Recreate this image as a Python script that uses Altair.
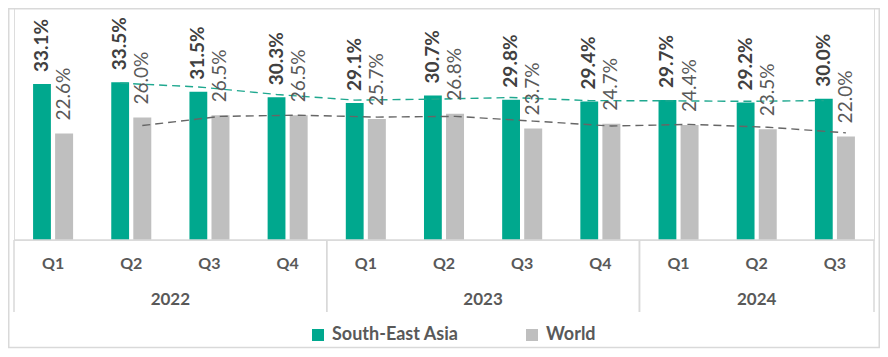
import altair as alt
import pandas as pd

# ---- data ----
quarters = ["Q1", "Q2", "Q3", "Q4", "Q1", "Q2", "Q3", "Q4", "Q1", "Q2", "Q3"]
years = ["2022"] * 4 + ["2023"] * 4 + ["2024"] * 3
sea = [33.1, 33.5, 31.5, 30.3, 29.1, 30.7, 29.8, 29.4, 29.7, 29.2, 30.0]
world = [22.6, 26.0, 26.5, 26.5, 25.7, 26.8, 23.7, 24.7, 24.4, 23.5, 22.0]
series_names = ["South-East Asia", "World"]
series_colors = ["#00A88E", "#BFBFBF"]

year_labels = ["2022", "2023", "2024"]
year_first = [0, 4, 8]
year_last = [3, 7, 10]

rows = []
for i, q in enumerate(quarters):
    rows.append({"idx": i, "quarter": q, "year": years[i], "series": series_names[0], "value": sea[i]})
    rows.append({"idx": i, "quarter": q, "year": years[i], "series": series_names[1], "value": world[i]})
df = pd.DataFrame(rows)
qdf = pd.DataFrame({"idx": list(range(len(quarters))), "quarter": quarters})
ydf = pd.DataFrame({"year": year_labels, "first": year_first, "last": year_last})

FONT = "Lato"
W, H = 860, 232
xscale = alt.Scale(domain=[-0.5, 10.5], nice=False, zero=False)
yscale = alt.Scale(domain=[0, 49.26], nice=False, zero=True)

base = alt.Chart(df).transform_calculate(
    x0="datum.idx + (datum.series == 'South-East Asia' ? -0.256 : 0.026)",
    x1="datum.idx + (datum.series == 'South-East Asia' ? -0.028 : 0.256)",
    xc="datum.idx + (datum.series == 'South-East Asia' ? -0.142 : 0.141)",
    label="format(datum.value, '.1f') + '%'",
)

bars = base.mark_bar().encode(
    x=alt.X("x0:Q", scale=xscale, axis=None),
    x2="x1:Q",
    y=alt.Y("value:Q", scale=yscale, axis=None),
    y2=alt.datum(0),
    color=alt.Color(
        "series:N",
        scale=alt.Scale(domain=series_names, range=series_colors),
        legend=alt.Legend(
            title=None, orient="none", legendX=295, legendY=318,
            direction="horizontal", symbolType="square", symbolSize=144,
            symbolStrokeWidth=0, symbolOpacity=1, labelFont=FONT,
            labelFontSize=18, labelFontWeight="bold", labelColor="#595959",
            labelOffset=5, columnPadding=64,
        ),
    ),
)

sea_labels = base.transform_filter("datum.series == 'South-East Asia'").mark_text(
    angle=270, align="left", baseline="middle", dx=12, font=FONT,
    fontSize=19, fontWeight="bold", color="#404040",
).encode(x=alt.X("xc:Q", scale=xscale), y=alt.Y("value:Q", scale=yscale), text="label:N")

world_labels = base.transform_filter("datum.series == 'World'").mark_text(
    angle=270, align="left", baseline="middle", dx=13, font=FONT,
    fontSize=19, fontWeight="normal", color="#595959",
).encode(x=alt.X("xc:Q", scale=xscale), y=alt.Y("value:Q", scale=yscale), text="label:N")

ma = base.transform_window(
    ma="mean(value)", frame=[-1, 0], groupby=["series"], sort=[alt.SortField("idx")]
).transform_filter("datum.idx >= 1")

sea_line = ma.transform_filter("datum.series == 'South-East Asia'").mark_line(
    color="#1FA88F", strokeWidth=1.4, strokeDash=[8, 5]
).encode(x=alt.X("xc:Q", scale=xscale), y=alt.Y("ma:Q", scale=yscale))

world_line = ma.transform_filter("datum.series == 'World'").mark_line(
    color="#666666", strokeWidth=1.4, strokeDash=[8, 5]
).encode(x=alt.X("xc:Q", scale=xscale), y=alt.Y("ma:Q", scale=yscale))

axis_line = alt.Chart(ydf).transform_aggregate(
    lo="min(first)", hi="max(last)"
).transform_calculate(a="datum.lo - 0.5", b="datum.hi + 0.5").mark_rule(
    color="#D9D9D9", strokeWidth=1.5
).encode(x=alt.X("a:Q", scale=xscale), x2="b:Q", y=alt.value(H))

seps = alt.Chart(ydf).transform_calculate(
    s="datum.first - 0.5", e="datum.last + 0.5"
).transform_fold(["s", "e"], as_=["k", "pos"]).mark_rule(
    color="#D9D9D9", strokeWidth=1.5
).encode(x=alt.X("pos:Q", scale=xscale), y=alt.value(H), y2=alt.value(H + 72))

q_text = alt.Chart(qdf).mark_text(
    font=FONT, fontSize=16, fontWeight="bold", color="#595959", baseline="middle"
).encode(x=alt.X("idx:Q", scale=xscale), y=alt.value(256), text="quarter:N")

y_text = alt.Chart(ydf).transform_calculate(c="(datum.first + datum.last) / 2").mark_text(
    font=FONT, fontSize=17, fontWeight="bold", color="#595959", baseline="middle"
).encode(x=alt.X("c:Q", scale=xscale), y=alt.value(292), text="year:N")

border = alt.Chart(pd.DataFrame({"k": [0]})).mark_rect(
    fill="transparent", stroke="#D9D9D9", strokeWidth=1.5
).encode(x=alt.value(-5.25), x2=alt.value(865.25), y=alt.value(0.75), y2=alt.value(339.5))

chart = alt.layer(
    border, bars, sea_line, world_line, sea_labels, world_labels,
    axis_line, seps, q_text, y_text,
).properties(
    width=W, height=H,
    autosize=alt.AutoSizeParams(type="none"),
    padding={"left": 6, "top": 0, "right": 6, "bottom": 109},
).configure_view(stroke=None).configure(font=FONT)

chart.save("out.html", embed_options={"renderer": "svg", "actions": False})
